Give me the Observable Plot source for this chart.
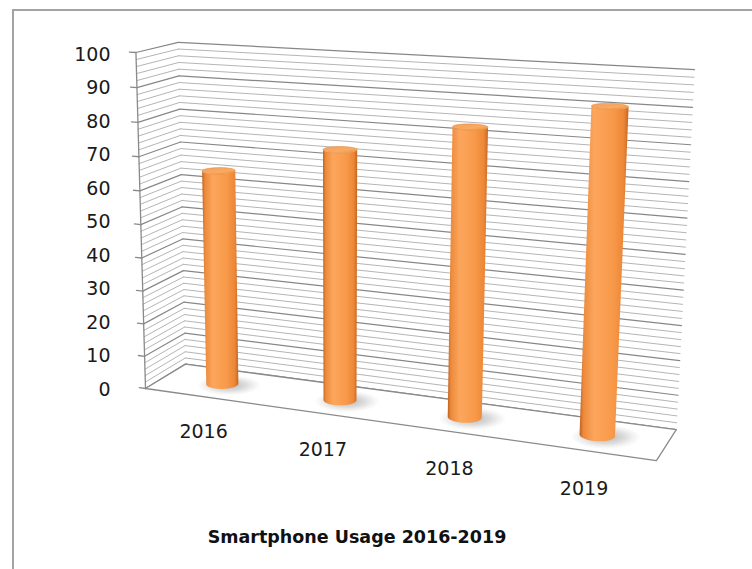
<!DOCTYPE html>
<html>
<head>
<meta charset="utf-8">
<script src="https://cdn.jsdelivr.net/npm/d3@7"></script>
<script src="https://cdn.jsdelivr.net/npm/@observablehq/plot@0.6"></script>
<style>
  html, body { margin:0; padding:0; background:#fff; }
  #page { position:relative; width:752px; height:569px; overflow:hidden; background:#fff; }
  #page svg { position:absolute; left:0; top:0; }
  #frame { position:absolute; left:12px; top:9px; width:800px; height:620px; border-left:2px solid #a3a3a3; border-top:2px solid #a3a3a3; pointer-events:none; }
  #title { position:absolute; left:0; top:527px; width:714px; text-align:center; font:bold 17.5px/20px "DejaVu Sans", sans-serif; color:#111; }
</style>
</head>
<body>
<div id="page"><div id="chart"></div><div id="axis"></div><div id="title"></div><div id="frame"></div></div>
<script>
// ---- data ----
const years = ["2016", "2017", "2018", "2019"];
const usage = [65, 74, 83, 91];
const yTicks = [0, 10, 20, 30, 40, 50, 60, 70, 80, 90, 100];
const titleText = "Smartphone Usage 2016-2019";

// ---- 3D box and camera (layout) ----
const box = {width: 152.7, depth: 25.5, top: 100};
const camera = {yaw: 22.65, pitch: 13.7, focal: 1681, center: [337, 240], origin: [145, 388], distance: 499.3};
const radius = 4.8;
const minorStep = 2;
const labelDrop = 11;

function makeCamera({yaw, pitch, focal, center, origin, distance}) {
  const a = yaw * Math.PI / 180, b = pitch * Math.PI / 180;
  const ca = Math.cos(a), sa = Math.sin(a), cb = Math.cos(b), sb = Math.sin(b);
  const T = [distance * (origin[0] - center[0]) / focal, -distance * (origin[1] - center[1]) / focal, distance];
  function project(x, y, z) {
    z = z ?? 0;
    const u = x * ca + z * sa;
    const w1 = -x * sa + z * ca;
    const v = y * cb + w1 * sb;
    const w = -y * sb + w1 * cb;
    const U = u + T[0], V = v + T[1], W = w + T[2];
    return [center[0] + focal * U / W, center[1] - focal * V / W];
  }
  const tu = -T[0], tv = -T[1], tw = -T[2];
  const py = tv * cb - tw * sb, w1p = tv * sb + tw * cb;
  const px = tu * ca - w1p * sa, pz = tu * sa + w1p * ca;
  return {project, position: [px, py, pz]};
}
const cam = makeCamera(camera);
const cameraProjection = () => d3.geoTransform({
  point(x, y, z) { const p = cam.project(x, y, z); this.stream.point(p[0], p[1]); }
});

const W = box.width, D = box.depth, H = box.top;
const gridValues = d3.range(0, H + 0.001, minorStep);
const minorVals = gridValues.filter(v => v % 10 !== 0);
const majorVals = gridValues.filter(v => v % 10 === 0);
const wallLine = v => ({type: "LineString", coordinates: [[0, v, D], [W, v, D]]});
const sideLine = v => ({type: "LineString", coordinates: [[0, v, 0], [0, v, D]]});
const floor = {type: "Polygon", coordinates: [[[0,0,0],[W,0,0],[W,0,D],[0,0,D],[0,0,0]]]};
const axisLine = {type: "LineString", coordinates: [[0,0,0],[0,H,0]]};
const tickLine = v => ({type: "LineString", coordinates: [[0, v, 0], [-2.1, v, 0]]});

const slot = i => (i + 0.5) * W / years.length;
function arc(xc, zc, y, r, from, to, n = 60) {
  return d3.range(n + 1).map(k => {
    const t = from + (to - from) * k / n;
    return [xc + r * Math.cos(t), y, zc + r * Math.sin(t)];
  });
}
function cylinder(i, value) {
  const xc = slot(i), zc = D / 2;
  const [px, , pz] = cam.position;
  const phi0 = Math.atan2(pz - zc, px - xc);
  const half = Math.acos(radius / Math.hypot(px - xc, pz - zc));
  const bottom = arc(xc, zc, 0, radius, phi0 - half, phi0 + half);
  const top = arc(xc, zc, value, radius, phi0 + half, phi0 - half);
  return {
    body: {type: "Polygon", coordinates: [[...bottom, ...top, bottom[0]]]},
    cap: {type: "Polygon", coordinates: [arc(xc, zc, value, radius, 0, 2 * Math.PI)]},
    shadow: {type: "Polygon", coordinates: [arc(xc + 2.4, zc - 0.3, 0, radius * 2.0, 0, 2 * Math.PI)]}
  };
}
const cyl = usage.map((v, i) => cylinder(i, v));

const defs = () => {
  const d = d3.create("svg:defs");
  const g = d.append("linearGradient").attr("id", "cylBody").attr("x1", 0).attr("x2", 1).attr("y1", 0).attr("y2", 0);
  [[0, "#c0621f"], [0.08, "#ec8a3c"], [0.3, "#fca65c"], [0.68, "#f8994a"], [0.9, "#ec8737"], [1, "#c4661f"]]
    .forEach(([o, c]) => g.append("stop").attr("offset", o).attr("stop-color", c));
  const c = d.append("linearGradient").attr("id", "cylCap").attr("x1", 0).attr("x2", 1).attr("y1", 0).attr("y2", 1);
  [[0, "#f4a060"], [0.6, "#f9aa64"], [1, "#f0953f"]]
    .forEach(([o, col]) => c.append("stop").attr("offset", o).attr("stop-color", col));
  const s = d.append("radialGradient").attr("id", "shadow");
  [[0, "#808080", 0.6], [0.55, "#a0a0a0", 0.35], [1, "#c0c0c0", 0]]
    .forEach(([o, col, op]) => s.append("stop").attr("offset", o).attr("stop-color", col).attr("stop-opacity", op));
  return d.node();
};

const chart = Plot.plot({
  width: 752, height: 520,
  margin: 0,
  projection: cameraProjection,
  style: {background: "transparent", fontFamily: "DejaVu Sans, sans-serif"},
  marks: [
    defs,
    Plot.geo(minorVals.map(wallLine), {stroke: "#b5b5b5", strokeWidth: 1}),
    Plot.geo(minorVals.map(sideLine), {stroke: "#b5b5b5", strokeWidth: 1}),
    Plot.geo(majorVals.map(wallLine), {stroke: "#878787", strokeWidth: 1.2}),
    Plot.geo(majorVals.map(sideLine), {stroke: "#878787", strokeWidth: 1.2}),
    Plot.geo([floor], {fill: "white", stroke: "#8a8a8a", strokeWidth: 1.3}),
    Plot.geo(cyl.map(c => c.shadow), {fill: "url(#shadow)", stroke: "none"}),
    Plot.geo(cyl.map(c => c.body), {fill: "url(#cylBody)", stroke: "none"}),
    Plot.geo(cyl.map(c => c.cap), {fill: "url(#cylCap)", stroke: "#e48b3d", strokeWidth: 0.6}),
    Plot.geo([axisLine], {stroke: "#8a8a8a", strokeWidth: 1.3}),
    Plot.geo(yTicks.map(tickLine), {stroke: "#8a8a8a", strokeWidth: 1.3}),
    Plot.text(years, {x: (d, i) => slot(i), y: () => -labelDrop, text: d => d,
      fontSize: 19, fill: "#1a1a1a", fontFamily: "DejaVu Sans, sans-serif"})
  ]
});
document.getElementById("chart").append(chart);

const axis = Plot.plot({
  width: 752, height: 520,
  marginLeft: 112, marginTop: 0, marginRight: 0, marginBottom: 0,
  style: {background: "transparent", fontFamily: "DejaVu Sans, sans-serif"},
  y: {domain: [0, H], range: [389, 54]},
  marks: [
    Plot.axisY(yTicks, {anchor: "left", tickSize: 0, tickPadding: 2, fontSize: 19, fill: "#1a1a1a", label: null})
  ]
});
document.getElementById("axis").append(axis);
document.getElementById("title").textContent = titleText;
</script>
</body>
</html>
